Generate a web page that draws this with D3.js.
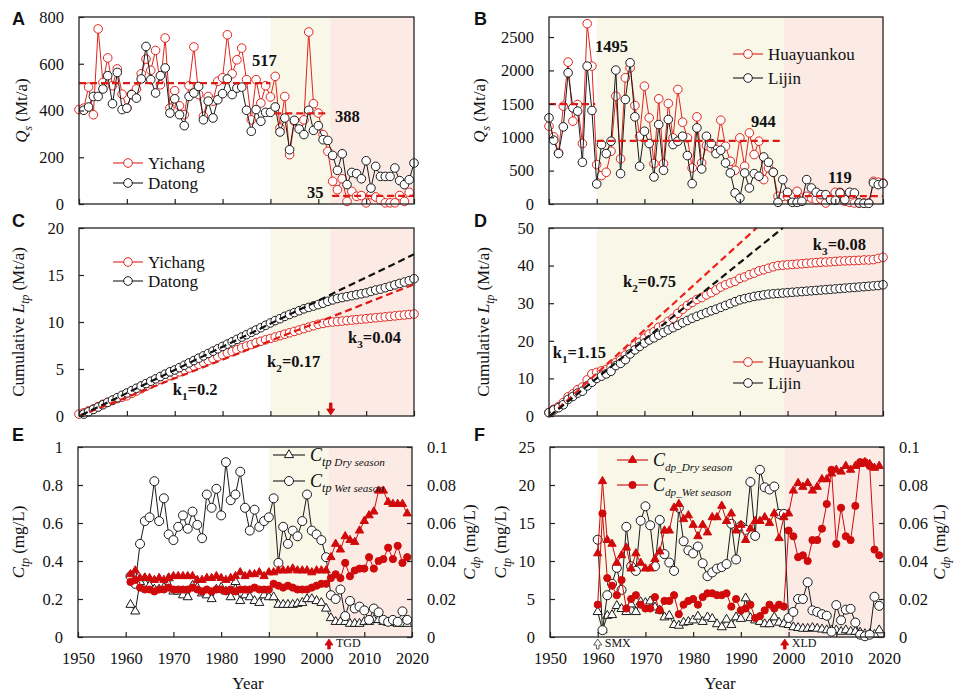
<!DOCTYPE html>
<html>
<head>
<meta charset="utf-8">
<script src="https://cdn.jsdelivr.net/npm/d3@7"></script>
<style>
body { margin: 0; background: #fff; }
text { font-family: "Liberation Serif", "Times New Roman", serif; fill: #111; }
</style>
</head>
<body>
<svg id="chart" width="955" height="692"></svg>
<script>
// ---------------- data ----------------
// A: annual sediment load Qs (Mt/a), Yangtze
let yichangStart = 1950;
let yichangQs = [404,410,500,382,749,520,625,506,578,470, 410,470,492,557,620,572,657,510,710,410,
  485,420,382,506,672,468,375,460,440,525, 540,724,557,617,667,532,360,532,432,506,
  458,546,325,460,211,354,346,360,736,429, 389,297,225,97,61,108,11,54,33,36,
  5,40,30,18,5,5,5,36,11,50];
let datongStart = 1951;
let datongQs = [401,415,460,460,492,549,429,563,404, 410,468,453,535,674,532,475,549,582,389,
  450,382,335,460,475,503,360,440,368,446, 472,535,468,496,500,401,311,404,354,392,
  392,415,308,368,232,358,321,297,401,315, 335,275,272,208,144,215,83,135,130,108,
  185,68,161,118,118,118,154,100,83,104, 175];
let meanA = [{from:1950, to:1990, v:517}, {from:1990.8, to:2002.3, v:388}, {from:2002.9, to:2020, v:35}];

// B: annual sediment load Qs (Mt/a), Yellow River
let yellowStart = 1950;
let huayuankouQs = [1165,1005,765,1465,2125,1240,1490,905,2700,2065, 590,425,475,790,1615,675,1890,2040,1475,1015,
  1765,1290,605,1575,605,1505,990,1715,1225,990, 540,1305,615,875,840,815,1255,865,640,505,
  990,565,1065,740,940,365,540,475,115,115, 115,140,190,90,115,90,65,75,15,65,
  175,175,40,25,15,15,15,15,340,325, 315];
let lijinQs = [1290,955,755,1155,1965,1440,1390,625,2065,1400, 300,890,755,940,2005,455,1565,2115,1305,565,
  1090,905,405,1190,505,1265,890,940,1015,725, 305,1140,525,1015,905,755,805,615,465,165,
  90,465,240,455,415,705,625,475,25,365, 175,25,25,40,365,240,175,140,140,65,
  55,165,65,175,165,15,10,10,315,290, 305];
let meanB = [{from:1950, to:1959.7, v:1495}, {from:1960, to:1999, v:944}, {from:1999, to:2020, v:119}];

// C: cumulative Ltp (Mt/a), Yangtze
let yichangCum = [0.2,0.35,0.55,0.75,1.0,1.25,1.45,1.65,1.85,2.0, 2.15,2.4,2.65,2.9,3.15,3.4,3.65,3.9,4.1,4.3,
  4.5,4.7,4.9,5.1,5.3,5.5,5.7,5.9,6.1,6.3, 6.5,6.7,6.85,7.05,7.25,7.45,7.6,7.8,7.95,8.1,
  8.25,8.4,8.55,8.7,8.85,9.0,9.15,9.3,9.45,9.6, 9.75,9.85,9.95,10.0,10.05,10.1,10.15,10.2,10.25,10.3,
  10.35,10.4,10.45,10.5,10.55,10.6,10.65,10.7,10.75,10.8, 10.85];
let datongCum = [0.2,0.45,0.7,0.95,1.2,1.45,1.7,1.95,2.2, 2.45,2.7,2.95,3.2,3.45,3.7,3.95,4.2,4.45,4.7,
  4.9,5.15,5.4,5.65,5.9,6.15,6.4,6.65,6.9,7.15, 7.4,7.65,7.9,8.15,8.4,8.65,8.9,9.15,9.4,9.65,
  9.9,10.15,10.35,10.6,10.8,11.0,11.2,11.4,11.55,11.7, 11.85,12.0,12.2,12.35,12.5,12.6,12.7,12.8,12.9,13.0,
  13.1,13.25,13.4,13.5,13.65,13.8,13.95,14.1,14.25,14.4, 14.6];
let trendC = [{x0:1950, y0:0, x1:2020, y1:14.0, color:"red"}, {x0:1950.5, y0:0.1, x1:2020, y1:17.2, color:"black"}];
let slopesC = [{k:"1", v:"0.2", year:1969.6, val:2.2}, {k:"2", v:"0.17", year:1989.3, val:5.2}, {k:"3", v:"0.04", year:2006.2, val:7.8}];

// D: cumulative Ltp (Mt/a), Yellow River
let huayuankouCum = [0.9,1.8,2.5,3.6,5.1,5.9,7.0,7.7,9.6,11.2, 11.6,12.0,12.4,13.0,14.2,14.9,16.2,17.7,18.8,19.6,
  20.7,21.8,22.4,23.6,24.1,25.2,26.0,27.3,28.4,29.4, 30.2,31.0,31.5,32.2,32.8,33.5,34.3,34.9,35.4,35.8,
  36.6,37.0,37.6,38.0,38.6,38.9,39.3,39.7,40.0,40.1, 40.2,40.3,40.4,40.5,40.6,40.7,40.8,40.9,40.95,41.0,
  41.1,41.2,41.25,41.3,41.35,41.4,41.5,41.5,41.6,41.9, 42.2];
let lijinCum = [0.9,1.6,2.2,3.0,4.4,5.2,6.1,6.6,8.0,9.0, 10.0,10.6,11.2,11.9,13.4,14.0,15.0,16.5,17.6,18.5,
  19.4,20.2,20.8,21.5,22.2,22.9,23.5,24.1,24.8,25.4, 26.0,26.5,27.0,27.5,28.0,28.4,28.9,29.4,29.9,30.4,
  30.9,31.2,31.5,31.8,32.0,32.2,32.4,32.5,32.6,32.7, 32.8,32.9,33.0,33.1,33.2,33.3,33.4,33.5,33.6,33.7,
  33.8,33.9,34.0,34.1,34.2,34.3,34.4,34.5,34.6,34.7, 34.9];
let trendD = [{x0:1950.2, y0:0, x1:1993.5, y1:50, color:"red"}, {x0:1950.2, y0:0, x1:1999, y1:50, color:"black"}];
let slopesD = [{k:"1", v:"1.15", year:1950.8, val:15.4}, {k:"2", v:"0.75", year:1965.5, val:34.3}, {k:"3", v:"0.08", year:2005.3, val:44.1}];

// E: Yangtze concentrations (Ctp left axis, Cdp right axis)
let eStart = 1961;
let ctpWetE = [0.32,0.28,0.49,0.61,0.63,0.82,0.61,0.73,0.54,0.51, 0.58,0.64,0.57,0.66,0.59,0.52,0.75,0.68,0.78,0.64,
  0.92,0.72,0.75,0.87,0.68,0.56,0.67,0.58,0.61,0.63, 0.73,0.39,0.58,0.49,0.56,0.53,0.61,0.75,0.56,0.54,
  0.51,0.42,0.22,0.20,0.25,0.11,0.19,0.15,0.16,0.14, 0.09,0.15,0.13,0.09,0.08,0.09,0.08,0.135,0.09];
let ctpDryE = [0.17,0.135,0.29,0.31,0.27,0.25,0.25,0.26,0.31,0.24, 0.24,0.22,0.21,0.27,0.26,0.23,0.22,0.20,0.25,0.26,
  0.24,0.21,0.29,0.19,0.22,0.21,0.19,0.18,0.22,0.21, 0.21,0.17,0.17,0.17,0.17,0.175,0.18,0.20,0.20,0.19,
  0.18,0.15,0.10,0.08,0.08,0.08,0.07,0.07,0.07,0.08, 0.08,0.09,0.09,0.08,0.075,0.075,0.07,0.07,0.07];
let cdpDryE = [0.033,0.035,0.031,0.031,0.031,0.030,0.031,0.030,0.031,0.032, 0.032,0.032,0.032,0.032,0.030,0.030,0.031,0.031,0.032,0.031,
  0.030,0.031,0.032,0.034,0.032,0.033,0.033,0.034,0.032,0.034, 0.034,0.035,0.035,0.035,0.036,0.035,0.035,0.035,0.034,0.035,
  0.035,0.035,0.042,0.049,0.046,0.053,0.051,0.050,0.056,0.061, 0.064,0.066,0.077,0.077,0.071,0.070,0.070,0.070,0.065];
let cdpWetE = [0.029,0.030,0.026,0.025,0.025,0.024,0.025,0.025,0.026,0.025, 0.025,0.025,0.025,0.026,0.025,0.024,0.025,0.024,0.025,0.025,
  0.024,0.025,0.024,0.025,0.025,0.025,0.026,0.025,0.025,0.025, 0.028,0.027,0.026,0.027,0.026,0.025,0.025,0.025,0.026,0.027,
  0.028,0.028,0.031,0.033,0.031,0.039,0.032,0.035,0.036,0.036, 0.042,0.036,0.040,0.041,0.047,0.041,0.048,0.039,0.042];

// F: Yellow River concentrations
let fStart = 1960;
let ctpWetF = [12.8,0.9,5.5,7.0,9.1,6.2,14.5,9.3,8.7,15.3, 17.2,14.7,9.3,15.4,10.9,9.8,8.7,17.0,12.6,11.4,
  11.0,11.9,9.7,8.0,8.5,9.0,9.2,9.6,14.9,10.2, 14.6,14.1,20.4,13.3,22.0,19.7,19.4,19.8,16.2,16.2,
  2.5,3.3,5.0,5.0,7.2,3.5,3.3,3.0,2.8,0.7, 4.2,2.2,3.6,3.7,1.9,0.3,0.1,0.3,5.3,4.1];
let ctpDryF = [3.3,0.9,2.8,2.9,4.1,3.7,3.3,4.3,3.3,4.6, 4.5,4.7,3.9,3.5,2.6,2.8,1.6,1.5,1.9,2.0,
  2.2,2.7,2.0,2.6,2.4,1.7,1.3,2.3,1.6,2.6, 2.4,5.1,2.5,2.2,2.0,1.7,1.7,2.6,1.9,1.7,
  1.6,1.3,1.2,1.1,1.1,1.2,1.1,1.0,0.9,0.9, 0.9,0.7,0.9,0.7,0.7,0.6,0.4,0.4,0.3,0.9];
let cdpDryF = [0.044,0.082,0.051,0.049,0.039,0.043,0.047,0.036,0.044,0.039, 0.036,0.036,0.041,0.045,0.056,0.056,0.068,0.070,0.062,0.064,
  0.059,0.053,0.059,0.055,0.063,0.063,0.069,0.061,0.065,0.056, 0.059,0.051,0.057,0.061,0.061,0.063,0.060,0.065,0.052,0.063,
  0.065,0.077,0.081,0.079,0.081,0.077,0.079,0.083,0.083,0.086, 0.088,0.087,0.090,0.088,0.090,0.091,0.092,0.091,0.089,0.090];
let cdpWetF = [0.017,0.065,0.031,0.027,0.022,0.030,0.015,0.020,0.022,0.017, 0.015,0.015,0.021,0.014,0.019,0.019,0.022,0.012,0.017,0.019,
  0.020,0.017,0.021,0.023,0.023,0.022,0.022,0.023,0.016,0.020, 0.014,0.015,0.017,0.010,0.011,0.014,0.017,0.015,0.017,0.016,
  0.056,0.053,0.042,0.043,0.040,0.051,0.051,0.057,0.070,0.088, 0.049,0.068,0.053,0.051,0.069,0.092,0.092,0.090,0.046,0.043];

// periods (shaded) and events (arrows)
let periodsYangtze = [1990, 2002.5, 2020];
let periodsYellow = [1960, 1999.2, 2020];
let yearTicks = [1950, 1960, 1970, 1980, 1990, 2000, 2010, 2020];

// ---------------- drawing ----------------
const svg = d3.select("#chart");
const COL = {red: "#e3231c", black: "#1a1a1a", fillRed: "#d0090b", dashRed: "#dd1a14"};
const YELLOW = "#f8f7e8", PINK = "#fcebe5";

// writes text made of parts, e.g. [{t:"Q",i:1},{t:"s",i:1,sub:1},{t:" (Mt/a)"}]
function richText(g, x, y, parts, size, opt) {
  opt = opt || {};
  let t = g.append("text").attr("x", x).attr("y", y)
    .style("font-size", size + "px")
    .attr("text-anchor", opt.anchor || "start")
    .style("font-weight", opt.bold ? "bold" : "normal");
  if (opt.rotate) t.attr("transform", `rotate(-90,${x},${y})`);
  let shift = 0;
  parts.forEach(p => {
    let s = t.append("tspan").text(p.t);
    let fs = p.sub ? size * (p.subSize || 0.68) : (p.size || size);
    s.style("font-size", fs + "px");
    if (p.i) s.style("font-style", "italic");
    let target = p.sub ? size * 0.3 : 0;
    if (target !== shift) { s.attr("dy", target - shift); shift = target; }
  });
  return t;
}

function makePanel(p) {
  let x = d3.scaleLinear().domain([1950, 2020]).range([p.left, p.right]);
  let y = d3.scaleLinear().domain([0, p.ymax]).range([p.bottom, p.top]);
  let y2 = p.ymax2 ? d3.scaleLinear().domain([0, p.ymax2]).range([p.bottom, p.top]) : null;
  let g = svg.append("g");
  let back = g.append("g");
  // shaded periods
  back.append("rect").attr("x", x(p.periods[0])).attr("y", p.top)
    .attr("width", x(p.periods[1]) - x(p.periods[0])).attr("height", p.bottom - p.top).attr("fill", YELLOW);
  back.append("rect").attr("x", x(p.periods[1])).attr("y", p.top)
    .attr("width", x(p.periods[2]) - x(p.periods[1])).attr("height", p.bottom - p.top).attr("fill", PINK);
  let marks = g.append("g");
  let front = g.append("g");
  return {p, x, y, y2, g, marks, front};
}

function finishPanel(P) {
  let p = P.p, g = P.front;
  // frame
  g.append("rect").attr("x", p.left).attr("y", p.top).attr("width", p.right - p.left)
    .attr("height", p.bottom - p.top).attr("fill", "none").attr("stroke", "#222").attr("stroke-width", 1.3);
  let ya = g.append("g").attr("transform", `translate(${p.left},0)`)
    .call(d3.axisLeft(P.y).tickValues(p.yticks).tickSize(-5).tickPadding(15).tickFormat(d => String(d)));
  let xa = g.append("g").attr("transform", `translate(0,${p.bottom})`)
    .call(d3.axisBottom(P.x).tickValues(yearTicks).tickSize(-5).tickPadding(15)
      .tickFormat(p.xlabels ? d => String(d) : ""));
  let axes = [ya, xa];
  if (P.y2) {
    let ra = g.append("g").attr("transform", `translate(${p.right},0)`)
      .call(d3.axisRight(P.y2).tickValues(p.yticks2).tickSize(-5).tickPadding(15)
        .tickFormat(d => d === 0 ? "0" : d3.format(".2~f")(d)));
    axes.push(ra);
  }
  axes.forEach(a => {
    a.select(".domain").remove();
    a.selectAll("line").attr("stroke", "#222").attr("stroke-width", 1.2);
    a.selectAll("text").style("font-size", "16.5px")
      .style("font-family", '"Liberation Serif","Times New Roman",serif').attr("fill", "#111");
  });
  // panel letter
  svg.append("text").attr("x", p.letterX).attr("y", p.letterY).text(p.letter)
    .style("font-family", '"Liberation Sans",Arial,sans-serif').style("font-weight", "bold").style("font-size", "18px");
  // axis titles
  richText(svg, p.ylabX, (p.top + p.bottom) / 2, p.ylab, 17, {anchor: "middle", rotate: true});
  if (p.ylab2) richText(svg, p.ylab2X, (p.top + p.bottom) / 2, p.ylab2, 17, {anchor: "middle", rotate: true});
  if (p.xlabels) {
    svg.append("text").attr("x", (p.left + p.right) / 2 + 3).attr("y", p.bottom + 52)
      .attr("text-anchor", "middle").style("font-size", "17px").text("Year");
  }
}

function marker(sel, shape, o) {
  if (shape === "circle") {
    return sel.append("circle").attr("r", o.r || 4);
  }
  return sel.append("path").attr("d", d3.symbol(d3.symbolTriangle, o.size || 30)());
}

// one series: line + markers
function series(P, values, start, scale, o) {
  let pts = values.map((v, i) => [start + i, v]);
  let line = d3.line().x(d => P.x(d[0])).y(d => scale(d[1]));
  let g = P.marks.append("g");
  g.append("path").attr("d", line(pts)).attr("fill", "none").attr("stroke", o.color).attr("stroke-width", o.lw || 1);
  g.selectAll("g.m").data(pts).enter().append("g")
    .attr("transform", d => `translate(${P.x(d[0])},${scale(d[1])})`)
    .each(function () {
      marker(d3.select(this), o.shape, o)
        .attr("fill", o.filled ? o.color : "#fff")
        .attr("stroke", o.color).attr("stroke-width", o.sw || 1);
    });
}

function legendRow(g, x0, x1, y, o, parts, size) {
  g.append("line").attr("x1", x0).attr("x2", x1).attr("y1", y).attr("y2", y)
    .attr("stroke", o.color).attr("stroke-width", 1.1);
  let m = g.append("g").attr("transform", `translate(${(x0 + x1) / 2},${y})`);
  marker(m, o.shape, o).attr("fill", o.filled ? o.color : "#fff").attr("stroke", o.color).attr("stroke-width", 1);
  richText(g, x1 + 5, y + 5.5, parts, size || 17);
}

function dashed(P, x0, y0, x1, y1, color, w) {
  P.front.append("line").attr("x1", P.x(x0)).attr("x2", P.x(x1))
    .attr("y1", P.y(y0)).attr("y2", P.y(y1))
    .attr("stroke", color).attr("stroke-width", w || 2.2).attr("stroke-dasharray", "7,4");
}

// small vertical arrow; up = tip on top
function arrow(g, x, tip, len, up, fill, stroke) {
  let s = up ? 1 : -1;
  let pts = [[x, tip], [x + 4, tip + 6 * s], [x + 1.3, tip + 6 * s], [x + 1.3, tip + len * s],
    [x - 1.3, tip + len * s], [x - 1.3, tip + 6 * s], [x - 4, tip + 6 * s]];
  g.append("polygon").attr("points", pts.map(d => d.join(",")).join(" "))
    .attr("fill", fill).attr("stroke", stroke).attr("stroke-width", 0.8);
}

function eventLabel(P, year, text) {
  P.front.append("text").attr("x", P.x(year) + 7).attr("y", 647).text(text).style("font-size", "12px");
}

const styleRed = {color: COL.red, shape: "circle", r: 4.3};
const styleBlack = {color: COL.black, shape: "circle", r: 4.3};
const subLab = (a, b, rest) => [{t: a, i: 1}, {t: b, i: 1, sub: 1}, {t: rest}];

// ---------- Panel A ----------
let A = makePanel({left: 79, right: 414, top: 17, bottom: 204, ymax: 800, yticks: [0, 200, 400, 600, 800],
  periods: periodsYangtze, letter: "A", letterX: 12, letterY: 25, ylabX: 27, ylab: subLab("Q", "s", " (Mt/a)")});
series(A, yichangQs, yichangStart, A.y, styleRed);
series(A, datongQs, datongStart, A.y, styleBlack);
meanA.forEach(m => dashed(A, m.from, m.v, m.to, m.v, COL.dashRed));
[[252, 66], [335, 122], [307, 198]].forEach((pos, i) => {
  A.front.append("text").attr("x", pos[0]).attr("y", pos[1]).text(meanA[i].v)
    .style("font-weight", "bold").style("font-size", "16.5px");
});
legendRow(A.front, 113, 143, 163, styleRed, [{t: "Yichang"}]);
legendRow(A.front, 113, 143, 183, styleBlack, [{t: "Datong"}]);
finishPanel(A);

// ---------- Panel B ----------
let B = makePanel({left: 549, right: 883, top: 17, bottom: 204, ymax: 2800, yticks: [0, 500, 1000, 1500, 2000, 2500],
  periods: periodsYellow, letter: "B", letterX: 474, letterY: 25, ylabX: 485, ylab: subLab("Q", "s", " (Mt/a)")});
series(B, huayuankouQs, yellowStart, B.y, styleRed);
series(B, lijinQs, yellowStart, B.y, styleBlack);
meanB.forEach(m => dashed(B, m.from, m.v, m.to, m.v, COL.dashRed));
[[595, 52], [751, 127], [828, 183]].forEach((pos, i) => {
  B.front.append("text").attr("x", pos[0]).attr("y", pos[1]).text(meanB[i].v)
    .style("font-weight", "bold").style("font-size", "16.5px");
});
legendRow(B.front, 733, 763, 54, styleRed, [{t: "Huayuankou"}]);
legendRow(B.front, 733, 763, 78, styleBlack, [{t: "Lijin"}]);
finishPanel(B);

// ---------- Panel C ----------
let C = makePanel({left: 79, right: 414, top: 228, bottom: 416, ymax: 20, yticks: [0, 5, 10, 15, 20],
  periods: periodsYangtze, letter: "C", letterX: 12, letterY: 227, ylabX: 24,
  ylab: [{t: "Cumulative "}, {t: "L", i: 1}, {t: "tp", i: 1, sub: 1}, {t: " (Mt/a)"}]});
series(C, yichangCum, yichangStart, C.y, styleRed);
series(C, datongCum, datongStart, C.y, styleBlack);
trendC.forEach(t => dashed(C, t.x0, t.y0, t.x1, t.y1, t.color === "red" ? COL.dashRed : "#111", 2.2));
slopesC.forEach(s => richText(C.front, C.x(s.year), C.y(s.val),
  [{t: "k"}, {t: s.k, sub: 1}, {t: "=" + s.v}], 16.5, {bold: true}));
legendRow(C.front, 113, 143, 262, styleRed, [{t: "Yichang"}]);
legendRow(C.front, 113, 143, 281, styleBlack, [{t: "Datong"}]);
arrow(C.front, C.x(2002.6), 415, 12, false, COL.fillRed, COL.fillRed);
finishPanel(C);

// ---------- Panel D ----------
let D = makePanel({left: 549, right: 883, top: 228, bottom: 416, ymax: 50, yticks: [0, 10, 20, 30, 40, 50],
  periods: periodsYellow, letter: "D", letterX: 474, letterY: 227, ylabX: 489,
  ylab: [{t: "Cumulative "}, {t: "L", i: 1}, {t: "tp", i: 1, sub: 1}, {t: " (Mt/a)"}]});
series(D, huayuankouCum, yellowStart, D.y, styleRed);
series(D, lijinCum, yellowStart, D.y, styleBlack);
trendD.forEach(t => dashed(D, t.x0, t.y0, t.x1, t.y1, t.color === "red" ? "#f0201a" : "#111", 2.2));
slopesD.forEach(s => richText(D.front, D.x(s.year), D.y(s.val),
  [{t: "k"}, {t: s.k, sub: 1}, {t: "=" + s.v}], 16.5, {bold: true}));
legendRow(D.front, 733, 763, 362, styleRed, [{t: "Huayuankou"}]);
legendRow(D.front, 733, 763, 383, styleBlack, [{t: "Lijin"}]);
finishPanel(D);

// ---------- Panel E ----------
const sWet = {color: COL.black, shape: "circle", r: 4.5};
const sDry = {color: COL.black, shape: "triangle", size: 36};
const sDpDry = {color: COL.fillRed, shape: "triangle", size: 30, filled: true};
const sDpWet = {color: COL.fillRed, shape: "circle", r: 3.6, filled: true};
let E = makePanel({left: 78, right: 412, top: 447, bottom: 637, ymax: 1, yticks: [0, 0.2, 0.4, 0.6, 0.8, 1],
  ymax2: 0.1, yticks2: [0, 0.02, 0.04, 0.06, 0.08, 0.1], xlabels: true,
  periods: periodsYangtze, letter: "E", letterX: 12, letterY: 441, ylabX: 24, ylab: subLab("C", "tp", " (mg/L)"),
  ylab2X: 475, ylab2: subLab("C", "dp", " (mg/L)")});
series(E, ctpDryE, eStart, E.y, sDry);
series(E, ctpWetE, eStart, E.y, sWet);
series(E, cdpWetE, eStart, E.y2, sDpWet);
series(E, cdpDryE, eStart, E.y2, sDpDry);
legendRow(E.front, 273, 305, 455, sDry, [{t: "C", i: 1}, {t: "tp", i: 1, sub: 1}, {t: "  Dry season", i: 1, sub: 1, subSize: 0.62}], 18);
legendRow(E.front, 273, 305, 481, sWet, [{t: "C", i: 1}, {t: "tp", i: 1, sub: 1}, {t: "  Wet season", i: 1, sub: 1, subSize: 0.62}], 18);
arrow(E.front, E.x(2002.6), 639, 10, true, COL.fillRed, COL.fillRed);
eventLabel(E, 2002.6, "TGD");
finishPanel(E);

// ---------- Panel F ----------
let F = makePanel({left: 550, right: 884, top: 447, bottom: 637, ymax: 25, yticks: [0, 5, 10, 15, 20, 25],
  ymax2: 0.1, yticks2: [0, 0.02, 0.04, 0.06, 0.08, 0.1], xlabels: true,
  periods: periodsYellow, letter: "F", letterX: 474, letterY: 441, ylabX: 506, ylab: subLab("C", "tp", " (mg/L)"),
  ylab2X: 945, ylab2: subLab("C", "dp", " (mg/L)")});
series(F, ctpDryF, fStart, F.y, sDry);
series(F, ctpWetF, fStart, F.y, sWet);
series(F, cdpWetF, fStart, F.y2, sDpWet);
series(F, cdpDryF, fStart, F.y2, sDpDry);
legendRow(F.front, 617, 648, 460, sDpDry, [{t: "C", i: 1}, {t: "dp_Dry season", i: 1, sub: 1, subSize: 0.62}], 18);
legendRow(F.front, 617, 648, 485, sDpWet, [{t: "C", i: 1}, {t: "dp_Wet season", i: 1, sub: 1, subSize: 0.62}], 18);
arrow(F.front, F.x(1960), 639, 10, true, "#fff", "#333");
eventLabel(F, 1960, "SMX");
arrow(F.front, F.x(1999.2), 639, 10, true, COL.fillRed, COL.fillRed);
eventLabel(F, 1999.2, "XLD");
finishPanel(F);
</script>
</body>
</html>
